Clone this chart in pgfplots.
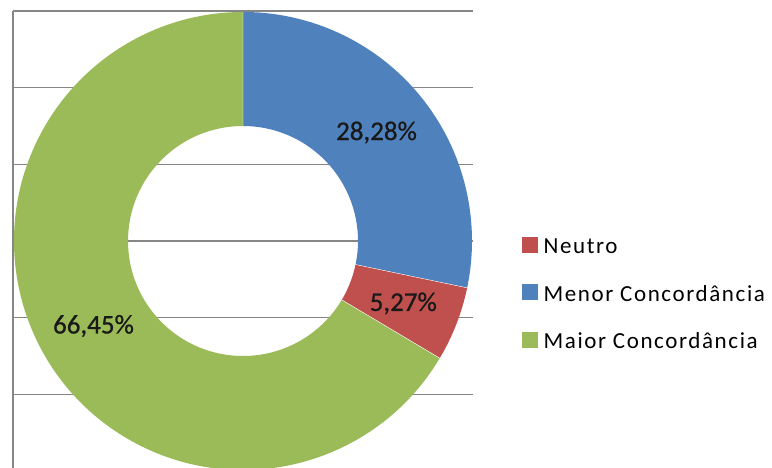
\documentclass[border=0pt]{standalone}
\usepackage{fontspec}
\setmainfont{Carlito}
\newfontfamily\legfont[LetterSpace=7]{Carlito}
\newfontfamily\lblfont[FakeBold=0.8]{Carlito}
\usepackage{pgfplots}
\pgfplotsset{compat=1.18}
\definecolor{cblue}{HTML}{4F81BD}
\definecolor{cred}{HTML}{C0504D}
\definecolor{cgreen}{HTML}{9BBB59}
\definecolor{cgrid}{RGB}{134,134,134}
\begin{document}
\begin{tikzpicture}
% data (percent)
\pgfmathsetmacro{\vMenor}{28.28}
\pgfmathsetmacro{\vNeutro}{5.27}
\pgfmathsetmacro{\vMaior}{66.45}
\pgfmathsetmacro{\aA}{90}
\pgfmathsetmacro{\aB}{\aA-3.6*\vMenor}
\pgfmathsetmacro{\aC}{\aB-3.6*\vNeutro}
\pgfmathsetmacro{\aD}{\aC-3.6*\vMaior}
\pgfmathsetmacro{\mA}{(\aA+\aB)/2}
\pgfmathsetmacro{\mB}{(\aB+\aC)/2}
\pgfmathsetmacro{\mC}{(\aC+\aD)/2}
\useasboundingbox (0,0) rectangle (772pt,468pt);
\begin{axis}[
  at={(13pt,0pt)}, anchor=south west,
  x=1pt, y=1pt,
  xmin=13, xmax=473, ymin=0, ymax=457,
  axis line style={draw=none},
  xtick={13}, ytick={457,380.33,303.67,227,150.33,73.67},
  xticklabels={}, yticklabels={},
  major tick length=0pt, tick style={draw=none},
  xmajorgrids, ymajorgrids,
  major grid style={cgrid, line width=1.3pt},
  legend cell align=left,
  legend style={at={(axis cs:519,233)}, anchor=north west, draw=none, fill=none,
    font=\legfont\fontsize{23}{27}\selectfont, row sep=25.5pt,
    nodes={inner sep=0pt, text height=16pt, text depth=5pt},
    /tikz/every odd column/.append style={column sep=6pt}},
]
\addlegendimage{legend image code/.code={\fill[cred] (0pt,-4pt) rectangle (15pt,11pt);}}
\addlegendentry{Neutro}
\addlegendimage{legend image code/.code={\fill[cblue] (0pt,-4pt) rectangle (15pt,11pt);}}
\addlegendentry{Menor Concordância}
\addlegendimage{legend image code/.code={\fill[cgreen] (0pt,-4pt) rectangle (15pt,11pt);}}
\addlegendentry{Maior Concordância}
\begin{scope}[shift={(axis cs:243,227)}]
\fill[cblue] (\aA:229pt) arc[start angle=\aA, end angle=\aB, radius=229pt] -- (\aB:115pt) arc[start angle=\aB, end angle=\aA, radius=115pt] -- cycle;
\fill[cred] (\aB:229pt) arc[start angle=\aB, end angle=\aC, radius=229pt] -- (\aC:115pt) arc[start angle=\aC, end angle=\aB, radius=115pt] -- cycle;
\fill[cgreen] (\aC:229pt) arc[start angle=\aC, end angle=\aD, radius=229pt] -- (\aD:115pt) arc[start angle=\aD, end angle=\aC, radius=115pt] -- cycle;
\draw[white, line width=0.4pt] (\aA:115pt) -- (\aA:229pt) (\aB:115pt) -- (\aB:229pt) (\aC:115pt) -- (\aC:229pt);
\node[font=\lblfont\fontsize{27}{30}\selectfont, text=black!90] at (\mA:172pt) {28,28\%};
\node[font=\lblfont\fontsize{27}{30}\selectfont, text=black!90] at (\mB:172pt) {5,27\%};
\node[font=\lblfont\fontsize{27}{30}\selectfont, text=black!90] at (\mC:172pt) {66,45\%};
\end{scope}
\end{axis}
\end{tikzpicture}
\end{document}
